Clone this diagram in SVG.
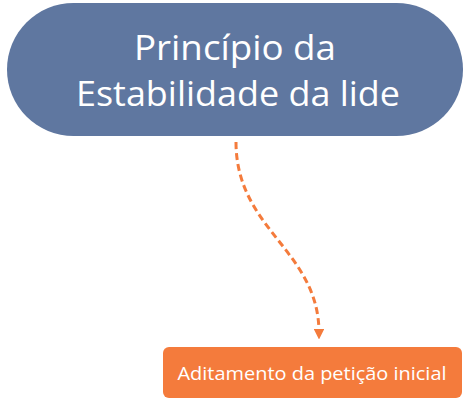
<svg xmlns="http://www.w3.org/2000/svg" width="466" height="401" viewBox="0 0 466 401">
<style>
.t{font-family:"Open Sans",Lato,"Liberation Sans",sans-serif;fill:#ffffff;text-anchor:middle}
.c{fill:none;stroke:#f47b3c;stroke-width:3;stroke-dasharray:7,4}
</style>
<defs>
<marker id="ah" viewBox="0 0 10 10" refX="4" refY="5" markerWidth="3.6" markerHeight="3.6" orient="auto" markerUnits="strokeWidth">
<path d="M0,0 L10,5 L0,10 Z" fill="#f47b3c"/>
</marker>
</defs>
<rect width="466" height="401" fill="#ffffff"/>
<g id="connectors">
<path class="c" d="M236,142 C236,230 319,250 319,333" marker-end="url(#ah)"/>
</g>
<g id="node-principio">
<rect x="7" y="3" width="456" height="133" rx="66.5" fill="#5f77a0"/>
<text class="t" x="235" y="60" font-size="35" textLength="202" lengthAdjust="spacingAndGlyphs">Princípio da</text>
<text class="t" x="238" y="106" font-size="35" textLength="324" lengthAdjust="spacingAndGlyphs">Estabilidade da lide</text>
</g>
<g id="node-aditamento">
<rect x="163" y="347" width="299" height="51" rx="6" fill="#f47b3c"/>
<text class="t" x="312" y="380" font-size="18" textLength="269" lengthAdjust="spacingAndGlyphs">Aditamento da petição inicial</text>
</g>
</svg>
